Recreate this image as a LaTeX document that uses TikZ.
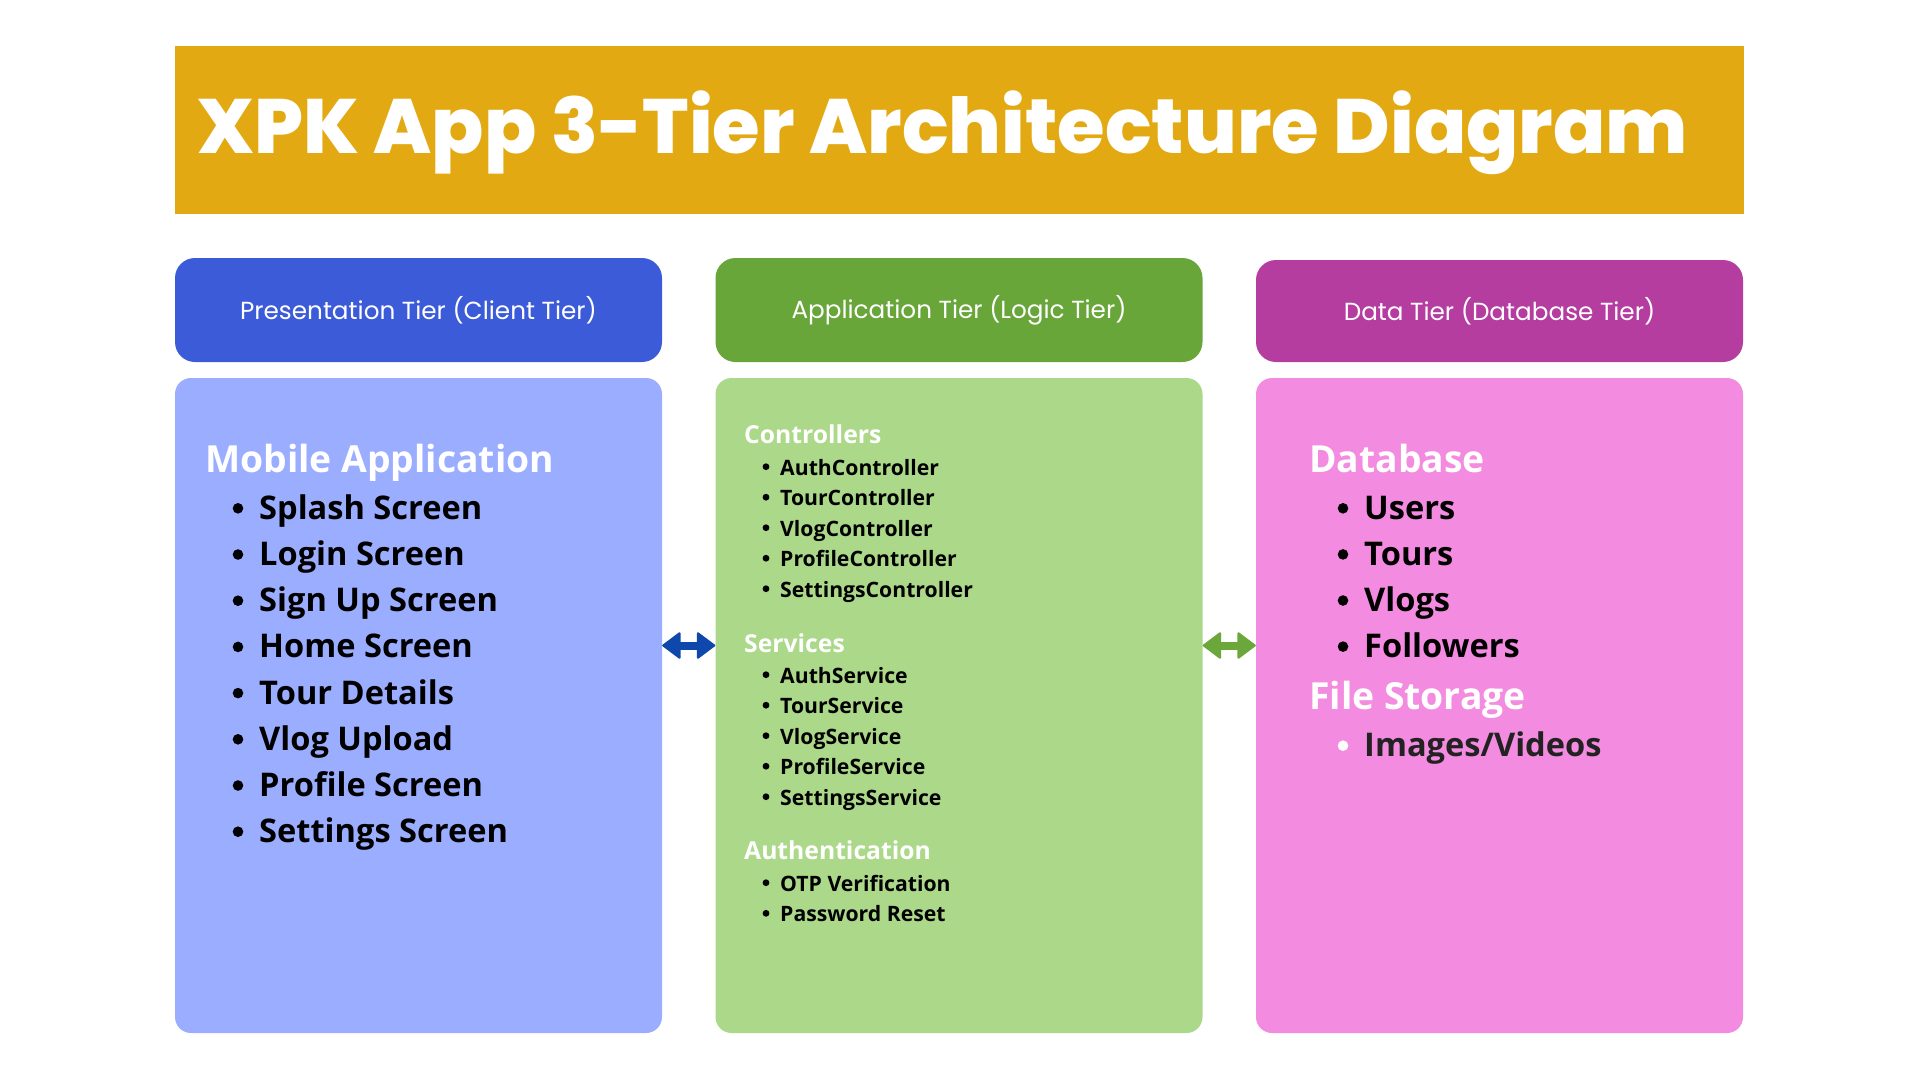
\documentclass[tikz,border=0pt]{standalone}
\usepackage{fontspec}
\usetikzlibrary{arrows.meta}
\newfontfamily\titlefont{Poppins ExtraBold}
\newfontfamily\headfont{Poppins}
\newfontfamily\bodyfont{Open Sans}

\definecolor{gold}{HTML}{E2A912}
\definecolor{presdark}{HTML}{3C5BD9}
\definecolor{preslight}{HTML}{9BADFF}
\definecolor{appdark}{HTML}{69A63A}
\definecolor{applight}{HTML}{ABD889}
\definecolor{datadark}{HTML}{B53DA0}
\definecolor{datalight}{HTML}{F38BE0}
\definecolor{linkblue}{HTML}{0E48AD}
\definecolor{linkgreen}{HTML}{6BA73A}
\definecolor{softblack}{HTML}{222222}

\begin{document}
\begin{tikzpicture}[x=1pt,y=-1pt,
  titlebar/.style={rectangle, fill=gold, minimum width=1569pt, minimum height=168pt, inner sep=0pt},
  titletext/.style={anchor=base west, inner sep=0pt, text=white, font=\titlefont\fontsize{77}{80}\selectfont},
  tierhead/.style={rectangle, rounded corners=20pt, minimum width=487pt, minimum height=104pt, inner sep=0pt, text=white, font=\headfont\fontsize{24.7}{28}\selectfont},
  tierbody/.style={rectangle, rounded corners=16pt, minimum width=487pt, minimum height=655pt, inner sep=0pt},
  biggroup/.style={anchor=base west, inner sep=0pt, text=white, font=\bodyfont\bfseries\fontsize{37.3}{40}\selectfont},
  bigitem/.style={anchor=base west, inner sep=0pt, text=black, font=\bodyfont\bfseries\fontsize{32.6}{36}\selectfont},
  smallgroup/.style={anchor=base west, inner sep=0pt, text=white, font=\bodyfont\bfseries\fontsize{24.7}{28}\selectfont},
  smallitem/.style={anchor=base west, inner sep=0pt, text=black, font=\bodyfont\bfseries\fontsize{21.2}{24}\selectfont},
  link/.style={line width=8pt, {Triangle[width=28pt,length=19pt,round,line width=2pt]}-{Triangle[width=28pt,length=19pt,round,line width=2pt]}}
]
\useasboundingbox (0,0) rectangle (1920,1080);
\fill[white] (0,0) rectangle (1920,1080);

% title banner
\node[titlebar] (title) at (959.5,130) {};
\node[titletext] (titlelabel) at (197,153) {XPK App 3-Tier Architecture Diagram};

% tier headers
\node[tierhead, fill=presdark] (preshead) at (418.5,310) {Presentation Tier (Client Tier)};
\node[tierhead, fill=appdark] (apphead) at (959,310) {Application Tier (Logic Tier)};
\node[tierhead, fill=datadark, minimum height=102pt] (datahead) at (1499.5,311) {Data Tier (Database Tier)};

% tier bodies
\node[tierbody, fill=preslight] (presbody) at (418.5,705.5) {};
\node[tierbody, fill=applight] (appbody) at (959,705.5) {};
\node[tierbody, fill=datalight] (databody) at (1499.5,705.5) {};

% links between tiers
\draw[link, draw=linkblue, fill=linkblue] ([yshift=60pt]presbody.east) -- ([yshift=60pt]appbody.west);
\draw[link, draw=linkgreen, fill=linkgreen] ([yshift=60pt]appbody.east) -- ([yshift=60pt]databody.west);

% presentation tier content
\node[biggroup] (mobile) at (205,472) {Mobile Application};
\foreach \t [count=\i] in {Splash Screen, Login Screen, Sign Up Screen, Home Screen, Tour Details, Vlog Upload, Profile Screen, Settings Screen}{
  \node[bigitem] (pi\i) at (259,{519.3+46.2*(\i-1)}) {\t};
  \fill[black] ([xshift=-21pt,yshift=11pt]pi\i.base west) circle (5.3pt);
}

% application tier content
\node[smallgroup] (controllers) at (744,443) {Controllers};
\foreach \t [count=\i] in {AuthController, TourController, VlogController, ProfileController, SettingsController}{
  \node[smallitem] (ci\i) at (780,{475+30.5*(\i-1)}) {\t};
  \fill[black] ([xshift=-14pt,yshift=8.3pt]ci\i.base west) circle (3.4pt);
}
\node[smallgroup] (services) at (744,652) {Services};
\foreach \t [count=\i] in {AuthService, TourService, VlogService, ProfileService, SettingsService}{
  \node[smallitem] (si\i) at (780,{683+30.5*(\i-1)}) {\t};
  \fill[black] ([xshift=-14pt,yshift=8.3pt]si\i.base west) circle (3.4pt);
}
\node[smallgroup] (auth) at (744,859) {Authentication};
\foreach \t [count=\i] in {OTP Verification, Password Reset}{
  \node[smallitem] (ai\i) at (780,{891+30.6*(\i-1)}) {\t};
  \fill[black] ([xshift=-14pt,yshift=8.3pt]ai\i.base west) circle (3.4pt);
}

% data tier content
\node[biggroup] (database) at (1309,472) {Database};
\foreach \t [count=\i] in {Users, Tours, Vlogs, Followers}{
  \node[bigitem] (di\i) at (1364,{519.3+46.1*(\i-1)}) {\t};
  \fill[black] ([xshift=-21pt,yshift=11pt]di\i.base west) circle (5.3pt);
}
\node[biggroup] (storage) at (1309,709.3) {File Storage};
\node[bigitem, text=softblack] (media) at (1364,756.7) {Images/Videos};
\fill[white] ([xshift=-21pt,yshift=11pt]media.base west) circle (5.3pt);
\end{tikzpicture}
\end{document}
